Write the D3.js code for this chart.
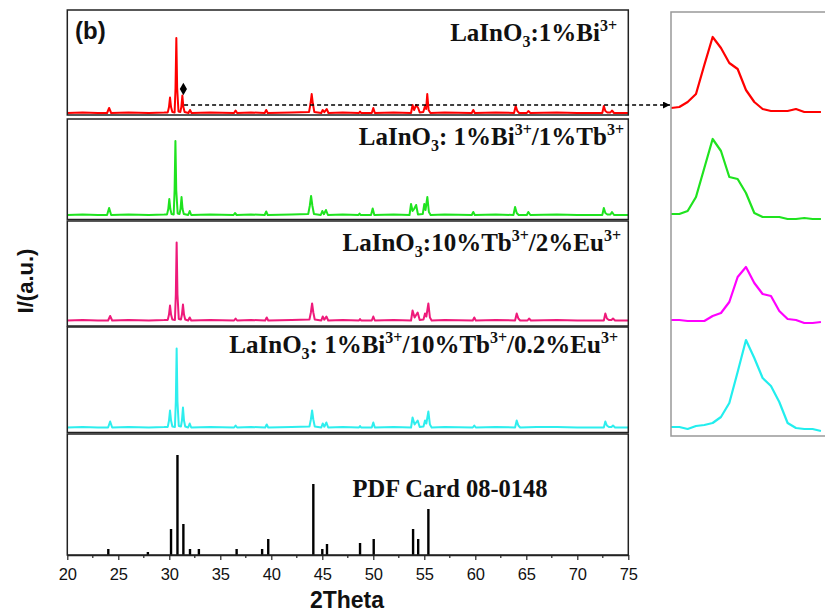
<!DOCTYPE html>
<html lang="en">
<head>
<meta charset="utf-8">
<title>XRD patterns</title>
<script src="https://cdn.jsdelivr.net/npm/d3@7"></script>
<style>
  body { margin: 0; background: #fff; }
  svg { display: block; }
</style>
</head>
<body>
<div id="chart"></div>
<script>
// 2Theta ticks
var xTicks = [20, 25, 30, 35, 40, 45, 50, 55, 60, 65, 70, 75];
var xMinor = [22.5, 27.5, 32.5, 37.5, 42.5, 47.5, 52.5, 57.5, 62.5, 67.5, 72.5];

// measured patterns, [2theta, intensity a.u.]
var redPattern = [
  [20,0],[21.5,0.6],[23,0],[23.9,0],[24.1,5],[24.3,0],[26,0.6],[28,0],[29.5,0.4],
  [29.85,0.6],[29.97,6],[30.07,15.5],[30.17,6],[30.3,1],
  [30.52,0.5],[30.61,25],[30.69,75],[30.77,25],[30.9,1.5],
  [31.08,1],[31.18,6],[31.28,17.5],[31.38,6],[31.5,1],
  [31.88,0],[32.03,3],[32.18,0],[34,0.6],[36.35,0],[36.5,2.5],[36.65,0],[38,0.5],
  [39.35,0],[39.5,3],[39.65,0],[42,0.5],
  [43.7,1],[43.84,9],[43.96,19],[44.08,9],[44.22,1],[44.9,0],[45.04,3],[45.2,0.8],[45.43,4],[45.6,0],
  [47,0.6],[48.6,0],[48.7,1.5],[48.8,0],
  [49.85,0],[50.0,5],[50.15,0],[52,0.6],
  [53.7,0],[53.85,8],[54.0,3],[54.2,8],[54.4,5],[54.55,0.5],[54.9,1],[55.07,7],[55.18,4],[55.29,19],[55.42,3],[55.6,0],
  [57,0.5],[59.65,0],[59.8,3],[59.95,0],[62,0.6],[63.8,0],[63.96,7],[64.12,2],[64.3,0],
  [65.05,0],[65.2,2],[65.4,0],[68,0.6],[70,0],[72.45,0],[72.6,7],[72.75,2],[72.95,0.5],
  [73.25,0.5],[73.4,2.5],[73.6,0],[75,0]
];
var greenPattern = [
  [20,0],[21.5,0.6],[23,0],[23.9,0],[24.1,7],[24.3,0],[26,0.6],[28,0],[29.5,0.4],
  [29.78,0.6],[29.9,6],[30.0,16],[30.1,6],[30.22,1],
  [30.43,0.5],[30.52,25],[30.6,74],[30.68,25],[30.82,1.5],
  [31.0,1],[31.1,6],[31.2,18],[31.3,6],[31.42,1],
  [31.85,0],[32.0,4],[32.15,0],[34,0.6],[36.3,0],[36.44,2],[36.6,0],[38,0.5],
  [39.35,0],[39.5,3.5],[39.65,0],[42,0.5],
  [43.62,1],[43.77,9],[43.9,19],[44.03,9],[44.18,1],[44.85,0],[45.0,4],[45.16,0.8],[45.36,5],[45.55,0],
  [47,0.6],[48.55,0],[48.65,1.5],[48.75,0],
  [49.78,0],[49.94,6.6],[50.1,0],[52,0.6],
  [53.55,0],[53.7,11],[53.85,4],[54.0,6],[54.2,10],[54.38,0.5],[54.85,1],[55.0,11],[55.12,5],[55.3,18],[55.45,3],[55.62,0],
  [57,0.5],[59.65,0],[59.8,3],[59.95,0],[62,0.6],[63.74,0],[63.9,8],[64.06,2],[64.25,0],
  [65.05,0],[65.2,3],[65.4,0],[68,0.6],[70,0],[72.45,0],[72.6,7],[72.75,2],[72.95,0.5],
  [73.25,0.5],[73.4,3],[73.6,0],[75,0]
];
var pinkPattern = [
  [20,0],[21.5,0.6],[23,0],[24.0,0],[24.2,4.5],[24.4,0],[26,0.6],[28,0],[29.5,0.4],
  [29.85,0.6],[29.97,6],[30.07,15],[30.17,6],[30.3,1],
  [30.55,0.5],[30.64,26],[30.72,78],[30.8,26],[30.93,1.5],
  [31.14,1],[31.24,6],[31.34,16],[31.44,6],[31.56,1],
  [31.85,0],[32.0,3],[32.15,0],[34,0.6],[36.35,0],[36.5,2],[36.65,0],[38,0.5],
  [39.4,0],[39.55,3],[39.7,0],[42,0.5],
  [43.74,1],[43.88,8],[44.0,17],[44.12,8],[44.26,1],[44.9,0],[45.04,4],[45.2,0.8],[45.4,4],[45.58,0],
  [47,0.6],[48.6,0],[48.7,1.5],[48.8,0],
  [49.85,0],[50.0,4],[50.15,0],[52,0.6],
  [53.7,0],[53.85,10],[54.05,3],[54.35,8],[54.55,0.5],[54.92,1],[55.07,7],[55.2,4],[55.4,17],[55.55,3],[55.72,0],
  [57,0.5],[59.75,0],[59.9,3],[60.05,0],[62,0.6],[63.9,0],[64.06,7],[64.22,2],[64.4,0],
  [65.12,0],[65.27,2],[65.45,0],[68,0.6],[70,0],[72.6,0],[72.75,7],[72.9,2],[73.1,0.5],
  [73.35,0.5],[73.5,2],[73.7,0],[75,0]
];
var cyanPattern = [
  [20,0],[21.5,0.6],[23,0],[24.0,0],[24.2,6],[24.4,0],[26,0.6],[28,0],[29.5,0.4],
  [29.85,0.6],[29.97,7],[30.07,17],[30.17,7],[30.3,1],
  [30.55,0.5],[30.64,26],[30.72,79],[30.8,26],[30.93,1.5],
  [31.14,1],[31.24,7],[31.34,20],[31.44,7],[31.56,1],
  [31.85,0],[32.0,4],[32.15,0],[34,0.6],[36.35,0],[36.5,2],[36.65,0],[38,0.5],
  [39.4,0],[39.55,3],[39.7,0],[42,0.5],
  [43.74,1],[43.88,8],[44.0,17],[44.12,8],[44.26,1],[44.9,0],[45.04,4],[45.2,0.8],[45.4,5],[45.58,0],
  [47,0.6],[48.6,0],[48.7,1.5],[48.8,0],
  [49.85,0],[50.0,5],[50.15,0],[52,0.6],
  [53.7,0],[53.85,10],[54.05,3],[54.35,7],[54.55,0.5],[54.92,1],[55.07,7],[55.2,4],[55.4,16],[55.55,3],[55.72,0],
  [57,0.5],[59.75,0],[59.9,2],[60.05,0],[62,0.6],[63.9,0],[64.06,7],[64.22,2],[64.4,0],
  [66,0.5],[68,0.6],[70,0],[72.6,0],[72.75,6],[72.9,2],[73.1,0.5],
  [73.35,0.5],[73.5,2],[73.7,0],[75,0]
];

// PDF card 08-0148 sticks [2theta, relative intensity]
var pdfPos = [24.02, 27.9, 30.17, 30.8, 31.38, 32.03, 32.9, 36.6, 39.1, 39.7, 44.12, 45.0, 45.46, 48.7, 50.04, 53.9, 54.4, 55.4];
var pdfInt = [6, 3, 26, 100, 31, 6, 6, 6, 6, 16, 71, 6, 11, 12, 16, 26, 16, 46];

// inset: zoomed peak
var insetTheta = [31.00, 31.02, 31.04, 31.06, 31.08, 31.10, 31.12, 31.14, 31.16, 31.18,
                  31.20, 31.22, 31.24, 31.26, 31.28, 31.30, 31.32, 31.34, 31.36];
var insetRed     = [3, 4, 9, 17, 46, 74, 63, 48, 42, 21, 9, 2, 0, 0, 0, 2, -1, -1, -1];
var insetGreen   = [3, 3, 6, 20, 49, 78, 66, 40, 38, 24, 4, 0, 0, 0, -2, -2, -1, -2, -2];
var insetMagenta = [1, 1, 0, 0, 0, 5, 8, 19, 44, 54, 38, 27, 25, 10, 2, 1, -2, -2, -1];
var insetCyan    = [1, 1, -1, 2, 3, 5, 11, 25, 56, 88, 70, 50, 42, 26, 5, 0, -1, -1, -3];

var sampleLabels = [
  [["LaInO",0],["3",1],[":1%Bi",0],["3+",2]],
  [["LaInO",0],["3",1],[": 1%Bi",0],["3+",2],["/1%Tb",0],["3+",2]],
  [["LaInO",0],["3",1],[":10%Tb",0],["3+",2],["/2%Eu",0],["3+",2]],
  [["LaInO",0],["3",1],[": 1%Bi",0],["3+",2],["/10%Tb",0],["3+",2],["/0.2%Eu",0],["3+",2]]
];

var w = 825, h = 612;
var x0 = 67.3, x1 = 628.3;

var svg = d3.select("#chart").append("svg")
    .attr("width", w)
    .attr("height", h);

var xScale = d3.scaleLinear().domain([20, 75]).range([x0, x1]);

// stacked panels: top, bottom, baseline of trace
var panels = [
  {top: 10,  bottom: 115,   base: 113,   color: "#ff0000", data: redPattern,   labelX: 617, labelY: 41},
  {top: 119, bottom: 219.5, base: 215,   color: "#1fe31f", data: greenPattern, labelX: 624, labelY: 145},
  {top: 221, bottom: 326,   base: 320.5, color: "#ee1a7a", data: pinkPattern,  labelX: 621, labelY: 251},
  {top: 327, bottom: 432.5, base: 427.5, color: "#2eeeee", data: cyanPattern,  labelX: 618, labelY: 353}
];
var pdfPanel = {top: 434, bottom: 555};

var line = d3.line();

panels.forEach(function(p, i) {
  var yScale = d3.scaleLinear().domain([0, 100]).range([p.base, p.base - 100]);
  line.x(function(d) { return xScale(d[0]); })
      .y(function(d) { return yScale(d[1]); });

  svg.append("path")
     .attr("d", line(p.data))
     .attr("fill", "none")
     .attr("stroke", p.color)
     .attr("stroke-width", 2)
     .attr("stroke-linejoin", "round");

  svg.append("rect")
     .attr("x", x0).attr("y", p.top)
     .attr("width", x1 - x0).attr("height", p.bottom - p.top)
     .attr("fill", "none")
     .attr("stroke", "#222")
     .attr("stroke-width", 1.5);

  var t = svg.append("text")
     .attr("x", p.labelX).attr("y", p.labelY)
     .attr("text-anchor", "end")
     .attr("font-family", "'Liberation Serif', 'Times New Roman', serif")
     .attr("font-weight", "bold")
     .attr("font-size", "25px")
     .attr("fill", "#111");
  var shift = 0;
  sampleLabels[i].forEach(function(part) {
    var target = part[1] == 1 ? 6 : (part[1] == 2 ? -10 : 0);
    t.append("tspan")
     .attr("dy", target - shift)
     .attr("font-size", part[1] ? "16px" : "25px")
     .text(part[0]);
    shift = target;
  });
});

// PDF card panel
var yPdf = d3.scaleLinear().domain([0, 100]).range([pdfPanel.bottom, pdfPanel.bottom - 100]);

svg.selectAll("line.stick")
   .data(pdfPos)
   .enter()
   .append("line")
   .attr("class", "stick")
   .attr("x1", function(d) { return xScale(d); })
   .attr("x2", function(d) { return xScale(d); })
   .attr("y1", yPdf(0))
   .attr("y2", function(d, i) { return yPdf(pdfInt[i]); })
   .attr("stroke", "#000")
   .attr("stroke-width", 2.4);

svg.append("rect")
   .attr("x", x0).attr("y", pdfPanel.top)
   .attr("width", x1 - x0).attr("height", pdfPanel.bottom - pdfPanel.top)
   .attr("fill", "none")
   .attr("stroke", "#222")
   .attr("stroke-width", 1.5);

svg.append("text")
   .attr("x", 352.5).attr("y", 497)
   .attr("font-family", "'Liberation Serif', 'Times New Roman', serif")
   .attr("font-weight", "bold")
   .attr("font-size", "24.5px")
   .attr("fill", "#111")
   .text("PDF Card 08-0148");

// bottom axis
var xAxis = d3.axisBottom(xScale).tickValues(xTicks).tickSize(5).tickSizeOuter(0);
var gx = svg.append("g")
   .attr("transform", "translate(0," + pdfPanel.bottom + ")")
   .call(xAxis);
gx.select(".domain").attr("stroke", "#222").attr("stroke-width", 1.5);
gx.selectAll(".tick line").attr("stroke", "#222").attr("stroke-width", 1.2);
gx.selectAll(".tick text")
   .attr("font-family", "'Liberation Sans', Arial, sans-serif")
   .attr("font-size", "16.5px")
   .attr("fill", "#111")
   .attr("dy", "1.05em");

svg.selectAll("line.minor")
   .data(xMinor)
   .enter()
   .append("line")
   .attr("class", "minor")
   .attr("x1", function(d) { return xScale(d); })
   .attr("x2", function(d) { return xScale(d); })
   .attr("y1", pdfPanel.bottom)
   .attr("y2", pdfPanel.bottom + 3)
   .attr("stroke", "#222")
   .attr("stroke-width", 1.2);

// axis titles
svg.append("text")
   .attr("x", 347).attr("y", 608)
   .attr("text-anchor", "middle")
   .attr("font-family", "'Liberation Sans', Arial, sans-serif")
   .attr("font-weight", "bold")
   .attr("font-size", "23px")
   .attr("fill", "#111")
   .text("2Theta");

svg.append("text")
   .attr("transform", "translate(33,281) rotate(-90)")
   .attr("text-anchor", "middle")
   .attr("font-family", "'Liberation Sans', Arial, sans-serif")
   .attr("font-weight", "bold")
   .attr("font-size", "22px")
   .attr("fill", "#111")
   .text("I/(a.u.)");

svg.append("text")
   .attr("x", 75).attr("y", 39)
   .attr("font-family", "'Liberation Sans', Arial, sans-serif")
   .attr("font-weight", "bold")
   .attr("font-size", "24px")
   .attr("fill", "#111")
   .text("(b)");

// marker and dashed arrow to inset
var markY = d3.scaleLinear().domain([0, 100]).range([113, 13]);
svg.append("path")
   .attr("d", d3.symbol().type(d3.symbolDiamond).size(45)())
   .attr("transform", "translate(" + xScale(31.38) + "," + markY(24) + ")")
   .attr("fill", "#000");

svg.append("defs").append("marker")
   .attr("id", "arrow")
   .attr("viewBox", "0 0 10 10")
   .attr("refX", 10).attr("refY", 5)
   .attr("markerWidth", 14).attr("markerHeight", 7)
   .attr("markerUnits", "userSpaceOnUse")
   .attr("orient", "auto")
   .append("path")
   .attr("d", "M0,0L10,5L0,10z")
   .attr("fill", "#000");

svg.append("line")
   .attr("x1", xScale(31.45)).attr("x2", 670)
   .attr("y1", 105).attr("y2", 105)
   .attr("stroke", "#000")
   .attr("stroke-width", 1.4)
   .attr("stroke-dasharray", "4,3")
   .attr("marker-end", "url(#arrow)");

// inset
var insetX = d3.scaleLinear().domain([31.0, 31.4]).range([671, 837.6]);
var insetSeries = [
  {vals: insetRed,     base: 111, color: "#ff0000"},
  {vals: insetGreen,   base: 217, color: "#1fe31f"},
  {vals: insetMagenta, base: 321, color: "#ff00ff"},
  {vals: insetCyan,    base: 428, color: "#22eeee"}
];

svg.append("clipPath").attr("id", "insetClip")
   .append("rect").attr("x", 671).attr("y", 12).attr("width", 300).attr("height", 424);

insetSeries.forEach(function(s) {
  var y = d3.scaleLinear().domain([0, 100]).range([s.base, s.base - 100]);
  var l = d3.line()
     .x(function(d, i) { return insetX(insetTheta[i]); })
     .y(function(d) { return y(d); });
  svg.append("path")
     .attr("d", l(s.vals))
     .attr("clip-path", "url(#insetClip)")
     .attr("fill", "none")
     .attr("stroke", s.color)
     .attr("stroke-width", 2.2)
     .attr("stroke-linejoin", "round");
});

svg.append("rect")
   .attr("x", 671).attr("y", 12)
   .attr("width", 300).attr("height", 424)
   .attr("fill", "none")
   .attr("stroke", "#999")
   .attr("stroke-width", 1.5);
</script>
</body>
</html>
